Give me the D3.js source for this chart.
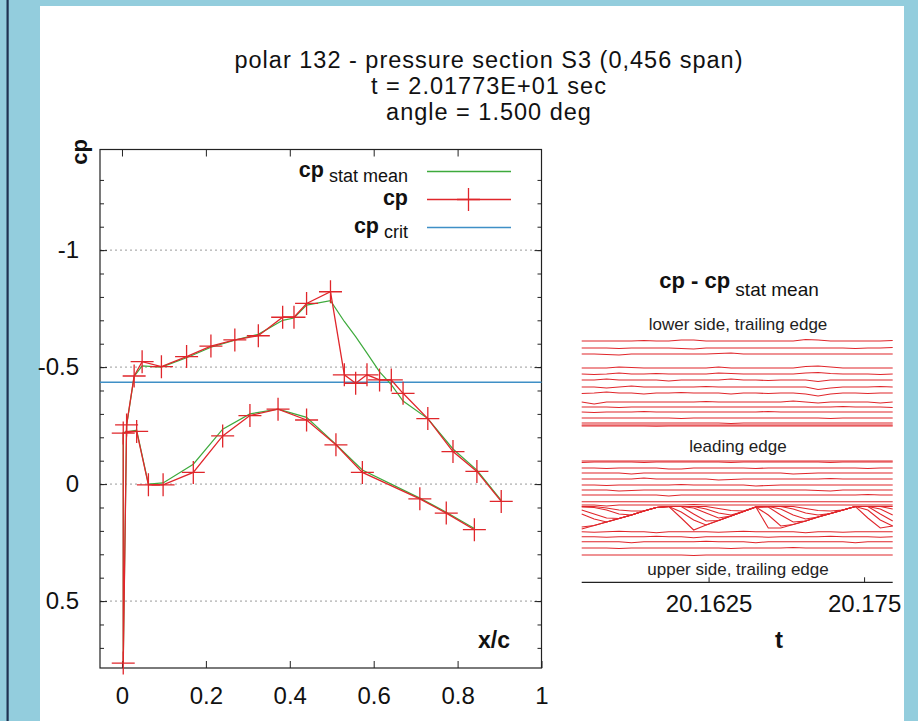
<!DOCTYPE html>
<html>
<head>
<meta charset="utf-8">
<script src="https://cdn.jsdelivr.net/npm/d3@7"></script>
<style>
  html, body { margin: 0; padding: 0; background: #93cddd; }
  svg { display: block; font-family: "Liberation Sans", Arial, sans-serif; }
</style>
</head>
<body>
<svg id="chart" width="918" height="721"></svg>
<script>
// ---------- pressure distribution (left panel) ----------
// taps in drawing order: upper side TE -> leading edge -> lower side TE
const tapX = [0.904, 0.846, 0.789, 0.729, 0.670, 0.642, 0.614, 0.584, 0.557, 0.530,
              0.497, 0.440, 0.410, 0.383, 0.325, 0.269, 0.212, 0.154, 0.094, 0.048,
              0.029, 0.011, 0.003, 0.003, 0.035, 0.063, 0.098, 0.170, 0.240, 0.305,
              0.372, 0.440, 0.510, 0.573, 0.710, 0.773, 0.840];
const cpNow = [0.074, -0.054, -0.139, -0.280, -0.388, -0.445, -0.445, -0.467, -0.431, -0.467,
               -0.822, -0.772, -0.713, -0.713, -0.634, -0.616, -0.590, -0.545, -0.502, -0.523,
               -0.462, -0.253, 0.765, -0.218, -0.225, 0.003, 0.003, -0.050, -0.206, -0.293,
               -0.320, -0.274, -0.168, -0.050, 0.063, 0.124, 0.195];
const cpStatMean = [0.070, -0.060, -0.150, -0.280, -0.355, -0.425, -0.480, -0.560, -0.630, -0.695,
                    -0.784, -0.765, -0.710, -0.700, -0.640, -0.615, -0.585, -0.540, -0.500, -0.505,
                    -0.460, -0.250, 0.765, -0.220, -0.230, 0.000, -0.005, -0.085, -0.235, -0.300,
                    -0.320, -0.285, -0.170, -0.060, 0.060, 0.120, 0.190];
const cpCrit = -0.435;
const cpMajorTicks = [-1, -0.5, 0, 0.5];
const cpTickLabels = ["-1", "-0.5", "0", "0.5"];
const xcTicks = [0, 0.2, 0.4, 0.6, 0.8, 1];
const xcTickLabels = ["0", "0.2", "0.4", "0.6", "0.8", "1"];

const titleLines = ["polar 132 - pressure section S3 (0,456 span)",
                    "t = 2.01773E+01 sec",
                    "angle = 1.500 deg"];

// ---------- cp - cp stat mean time histories (right panel) ----------
const tSample = [20.1523, 20.1533, 20.1543, 20.1553, 20.1563, 20.1573, 20.1583, 20.1593, 20.1603,
                 20.1613, 20.1623, 20.1633, 20.1643, 20.1653, 20.1663, 20.1673, 20.1683, 20.1693,
                 20.1703, 20.1713, 20.1723, 20.1733, 20.1743, 20.1753, 20.1763, 20.1773];
const tTicks = [20.1625, 20.175];
const tTickLabels = ["20.1625", "20.175"];

// stacking level of each tap trace (lower side, TE first)
const lowerSideLevel = [1, 8, 14, 28, 34, 40, 47, 53, 62, 67, 72, 78, 83, 85, 86];
const lowerSideDev = [
  [0,0,0,0,0,-0.5,0,0,-1,-1,0,0,0,0,0,0,0,0,-1.5,-1,0,0,0,0,0,-0.5],
  [0,0,0,0.5,0,0,0,0,0.5,1,0,0,0,0,0,0,0,0,0,0,0,0,0.5,0,0,-0.5],
  [0,0,0.5,1,0,0,0,0,0,0,0,-0.5,-1,0,0,0,0,0,0,0,0,0,0,0,0,0],
  [0,0,0,-1,-0.5,0,0,0,0,0,0,-1,0,0,0,0,0,0,-1.5,-2,-1,0,0,0,0,0],
  [0,0.5,0,-1,0,0,-0.5,0,0,0,0,-1,-0.5,0,0,0,0,0,-1,-1.5,-0.5,0,0,0,0.5,0],
  [0,0,-1,0,0,0,0,1,0,0,0,0,-1,0,0,0.5,0,0,0,1.5,0,0,0,0,0,0],
  [0,0,1,0,-1,0,0,0,0,0,-0.5,0,0,0,0,0,0,0,0,2.5,1,0,0,0,-0.5,0],
  [0.5,0,-1,0,0,1,0,0,-0.5,0,0,0,1,0,0,0.5,0,0,1,3,1,0,0,0.5,0,0],
  [0,2,0,0,0,0,0,0,0,0,-0.5,0,0,0,0,0,0,-1,0,1,0,0,0,0,1,0],
  [0,0,0,0.5,0,0,0,0,0,0,0,0,0,0,0,0,0,0,0,0,0,-0.5,0,0,0,0.5],
  [0,0.5,0,0,0,-0.5,0,0,0,0,0,0,0,0,0,-0.5,0,0,0,0,0,0,0,0,0,0],
  [0,0,0,0,0,0,0,0,0.5,0,0,0,0,0,0,0,0,0,0,0,0.5,0,0,0,0,0],
  [0,0,0,0,0,0,0,0,0,0,0,0,0.5,0,0,0,0,0,0,0,0,0,0,0,0,0],
  [0,0,0,0,0,0,0,0,0,0,0,0,0,0,0,0,0,0,0,0,0,0,0,0,0,0],
  [0,0,0,0,0,0,0.3,0,0,0,0,0,0,0,0,0,0,0,0,0,0,0,0,0,0,0]
];
const leadingLevel = [121, 122, 128, 133, 139, 145, 150, 155, 161.7, 165];
const leadingDev = [
  [0,0,0,0,0,0,0,0,0,0,0,0,0,0,0,0,0,0,0,0,0,0,0,0,0,0],
  [0.5,0,0,0,0,0.5,0,0,0,0,0,0,0.5,0,0,0,0,0,0,0,0.5,0,0,0,0,0],
  [0,0,0.5,0,0,0,0,1,1,0,0,0,0,0,0.5,0,0,0,0,0,0,0,0,0.5,0,0],
  [0,0,0,0,1,0,0,0,0,0,0,0,0,0,0,0,0,1,0.5,0,0,0,0,0,0,0],
  [0,0,0,0,0,-1,0,0,0,0,0,1,0.5,0,0,0,0,0,0,0,-0.5,0,0,0,0,0],
  [0,0,0.5,0,0,0,0,0,-0.5,0,0,0,0,0,1,0.5,0,0,0,0,0,0,0,0,0,0],
  [0,0,0,1,0.5,0,0,0,0,0,0,0,0,0,0,0,0,0,0,0.5,1,0,0,0,0,0],
  [0,0,0,0,0,0,0,1,0,0,0,0,0,0,0,0,0,0,0,0,0,0,0,-0.5,0,0],
  [0,0,0,0,0,0,0,0,0,0,0,0,0,0,0,0,0,0,0,0,0,0,0,0,0,0],
  [0,0,1,0,0,0,0,0,0,-0.5,0,0,0,0,0,0,0,0,0,0,0,0,0,0,0,0]
];
// taps swept by the oscillating shock on the upper side
const shockLevel = [190, 187, 183, 179, 175, 171];
const shockDev = [
  [-1,-4.5,-8,-11.5,-15,-19,-22.5,-23.5,-12,0,-5,-9.5,-14,-18.5,-23,-2,-2,-5.5,-9,-13,-16.5,-20,-23.5,-12,-2,-4],
  [0,-1.5,-5,-8.5,-12,-16,-19.5,-20.5,-15,-7,-2,-6.5,-11,-15.5,-20,-12,-1,-2.5,-6,-10,-13.5,-17,-20.5,-17,-7,-1],
  [-9,-4,-1,-4.5,-8,-12,-15.5,-16.5,-16.5,-9,-2,-2.5,-7,-11.5,-16,-16,-8,-1,-2,-6,-9.5,-13,-16.5,-16.5,-9,-2],
  [-9,-5,-1,-0.5,-4,-8,-11.5,-12.5,-12.5,-11,-6,-1,-3,-7.5,-12,-12.5,-10,-4,0,-2,-5.5,-9,-12.5,-12.5,-10,-4],
  [-8,-7.5,-5,-1,0,-4,-7.5,-8.5,-8.5,-8.5,-6,-2,0,-3.5,-8,-8.5,-8.5,-6,-2,0,-1.5,-5,-8.5,-8.5,-8.5,-6],
  [-4.5,-4.5,-3,-1,0,0,-3.5,-4.5,-4.5,-4.5,-4.5,-2.5,-0.5,0,-4,-4.5,-4.5,-4.5,-2.5,-0.5,0,-1,-4.5,-4.5,-4.5,-4.5]
];
const upperSideLevel = [191.7, 196.7, 201.7, 208, 215];
const upperSideDev = [
  [0,0.5,0,-0.5,0,0,1,0,0,0,0,0.5,0,-0.5,0,0,0,0,1,0,0,0.5,0,0,0,0],
  [0,0,0.5,0,0,0,-0.5,0,0,1,0,0,0,0,0,0.5,0,0,0,0,-0.5,0,0,0,0.5,0],
  [0,0,0,0,1,0,0,0,0,0,-0.5,0,0,0,1,0,0,0,0,0,0,0,1,0,0,0],
  [0,0,0,0.5,0,0,0,0,0,0,0,0,0.5,0,0,0,0,-0.5,0,0,0,0,0,0,0,0],
  [0,0,0,0,0,0,0,0,0,0.5,0,0,0,0,0,0,0,0,0,0,0,0,0,0,0,0]
];

// ---------- drawing ----------
const W = 918, H = 721;
const RED = "#e0262b", GREEN = "#3daa3c", BLUE = "#3f8fc6";
const svg = d3.select("#chart");

svg.append("rect").attr("width", W).attr("height", H).attr("fill", "#93cddd");
svg.append("rect").attr("x", 6.5).attr("y", 0).attr("width", 2.2).attr("height", H).attr("fill", "#1f3352");
svg.append("rect").attr("x", 40).attr("y", 6).attr("width", 864).attr("height", H - 6).attr("fill", "#ffffff");

// title
svg.append("g").selectAll("text").data(titleLines).join("text")
  .attr("x", 489).attr("y", (d, i) => 67.5 + i * 26.3)
  .attr("text-anchor", "middle").attr("font-size", 23.5).attr("letter-spacing", "1px").attr("fill", "#111")
  .text(d => d);

// ----- left panel -----
const L = { left: 100, right: 541.5, top: 149.5, bottom: 668 };
const xL = d3.scaleLinear().domain([-0.0524, 1]).range([L.left, L.right]);
const yL = d3.scaleLinear().domain([-1.43, 0.786]).range([L.top, L.bottom]);
const left = svg.append("g");

// dotted grid
left.append("g").selectAll("line").data(cpMajorTicks).join("line")
  .attr("x1", L.left).attr("x2", L.right)
  .attr("y1", d => yL(d)).attr("y2", d => yL(d))
  .attr("stroke", "#9a9a9a").attr("stroke-width", 1).attr("stroke-dasharray", "2,3");

function styleAxis(g) {
  g.select(".domain").remove();
  g.selectAll(".tick line").attr("stroke", "#222");
  g.selectAll("text").attr("fill", "#111").attr("font-size", 24).attr("font-family", "Liberation Sans, Arial, sans-serif");
}
const cpMinor = d3.range(-13, 8).map(i => i / 10);
left.append("g").attr("transform", `translate(${L.left},0)`)
  .call(d3.axisLeft(yL).tickValues(cpMinor).tickSizeInner(-4).tickSizeOuter(0).tickFormat(""))
  .call(styleAxis);
left.append("g").attr("transform", `translate(${L.right},0)`)
  .call(d3.axisRight(yL).tickValues(cpMinor).tickSizeInner(-4).tickSizeOuter(0).tickFormat(""))
  .call(styleAxis);
left.append("g").attr("transform", `translate(${L.left},0)`)
  .call(d3.axisLeft(yL).tickValues(cpMajorTicks).tickSizeInner(-7).tickSizeOuter(0).tickPadding(21)
        .tickFormat((d, i) => cpTickLabels[i]))
  .call(styleAxis);
left.append("g").attr("transform", `translate(${L.right},0)`)
  .call(d3.axisRight(yL).tickValues(cpMajorTicks).tickSizeInner(-7).tickSizeOuter(0).tickFormat(""))
  .call(styleAxis);
left.append("g").attr("transform", `translate(0,${L.bottom})`)
  .call(d3.axisBottom(xL).tickValues(xcTicks).tickSizeInner(-7).tickSizeOuter(0).tickPadding(19)
        .tickFormat((d, i) => xcTickLabels[i]))
  .call(styleAxis);
left.append("g").attr("transform", `translate(0,${L.top})`)
  .call(d3.axisTop(xL).tickValues(xcTicks.slice(0, 5)).tickSizeInner(-7).tickSizeOuter(0).tickFormat(""))
  .call(styleAxis);

left.append("rect").attr("x", L.left).attr("y", L.top)
  .attr("width", L.right - L.left).attr("height", L.bottom - L.top)
  .attr("fill", "none").attr("stroke", "#222").attr("stroke-width", 1.2);

// critical cp
left.append("line").attr("x1", L.left).attr("x2", L.right)
  .attr("y1", yL(cpCrit)).attr("y2", yL(cpCrit))
  .attr("stroke", BLUE).attr("stroke-width", 1.4);

const lineL = d3.line().x(d => xL(d[0])).y(d => yL(d[1]));
left.append("path").datum(tapX.map((x, i) => [x, cpStatMean[i]]))
  .attr("d", lineL).attr("fill", "none").attr("stroke", GREEN).attr("stroke-width", 1.2);
left.append("path").datum(tapX.map((x, i) => [x, cpNow[i]]))
  .attr("d", lineL).attr("fill", "none").attr("stroke", RED).attr("stroke-width", 1.3);

const crossPath = s => `M${-s},0H${s}M0,${-s}V${s}`;
left.append("g").selectAll("path").data(tapX.map((x, i) => [x, cpNow[i]])).join("path")
  .attr("transform", d => `translate(${xL(d[0])},${yL(d[1])})`)
  .attr("d", crossPath(11.5)).attr("stroke", RED).attr("stroke-width", 1.3).attr("fill", "none");

// axis titles
svg.append("text").attr("transform", `translate(86.5,152) rotate(-90)`)
  .attr("text-anchor", "middle").attr("font-size", 22).attr("font-weight", "bold").attr("fill", "#111").text("cp");
svg.append("text").attr("x", 510).attr("y", 648).attr("text-anchor", "end")
  .attr("font-size", 23).attr("font-weight", "bold").attr("fill", "#111").text("x/c");

// legend
const legend = svg.append("g");
const legendItems = [
  { main: "cp", sub: "stat mean", y: 177, color: GREEN, marker: false },
  { main: "cp", sub: "", y: 205, color: RED, marker: true },
  { main: "cp", sub: "crit", y: 233, color: BLUE, marker: false }
];
legendItems.forEach(item => {
  const t = legend.append("text").attr("x", 408).attr("y", item.y).attr("text-anchor", "end").attr("fill", "#111");
  t.append("tspan").attr("font-size", 21.5).attr("font-weight", "bold").text(item.main);
  if (item.sub) t.append("tspan").attr("font-size", 18).attr("dy", 5).text("\u00a0" + item.sub);
  const ly = item.y - 5.5;
  legend.append("line").attr("x1", 427).attr("x2", 511).attr("y1", ly).attr("y2", ly)
    .attr("stroke", item.color).attr("stroke-width", item.color === RED ? 1.3 : 1.4);
  if (item.marker) legend.append("path").attr("transform", `translate(468.5,${ly})`)
    .attr("d", crossPath(11.5)).attr("stroke", RED).attr("stroke-width", 1.3);
});

// ----- right panel -----
const xR = d3.scaleLinear().domain([20.1523, 20.1773]).range([581.7, 892.7]);
const yR = d3.scaleLinear().domain([0, 216]).range([340, 556]);
const right = svg.append("g");
const lineR = d3.line().x((d, k) => xR(tSample[k])).y(d => yR(d));

function drawGroup(levels, devs) {
  right.append("g").selectAll("path").data(levels.map((lv, i) => devs[i].map(v => lv + v))).join("path")
    .attr("d", lineR).attr("fill", "none").attr("stroke", RED).attr("stroke-width", 1.1);
}
drawGroup(lowerSideLevel, lowerSideDev);
drawGroup(leadingLevel, leadingDev);
drawGroup(shockLevel, shockDev);
drawGroup(upperSideLevel, upperSideDev);

right.append("g").attr("transform", `translate(0,582.3)`)
  .call(d3.axisBottom(xR).tickValues(tTicks).tickSizeInner(-5).tickSizeOuter(0).tickPadding(12.5)
        .tickFormat((d, i) => tTickLabels[i]))
  .call(g => {
    g.select(".domain").remove();
    g.selectAll(".tick line").attr("stroke", "#222");
    g.selectAll("text").attr("fill", "#111").attr("font-size", 24).attr("font-family", "Liberation Sans, Arial, sans-serif");
  });
right.append("line").attr("x1", xR.range()[0]).attr("x2", xR.range()[1])
  .attr("y1", 582.3).attr("y2", 582.3).attr("stroke", "#222").attr("stroke-width", 1.2);

const rTitle = right.append("text").attr("x", 739).attr("y", 288).attr("text-anchor", "middle").attr("fill", "#111");
rTitle.append("tspan").attr("font-size", 22).attr("font-weight", "bold").text("cp - cp");
rTitle.append("tspan").attr("font-size", 19).attr("dy", 8).text("\u00a0stat mean");

const sideLabels = [
  { text: "lower side, trailing edge", y: 330 },
  { text: "leading edge", y: 451.7 },
  { text: "upper side, trailing edge", y: 575 }
];
right.append("g").selectAll("text").data(sideLabels).join("text")
  .attr("x", 738).attr("y", d => d.y).attr("text-anchor", "middle")
  .attr("font-size", 17).attr("fill", "#222").text(d => d.text);

svg.append("text").attr("x", 779).attr("y", 648).attr("text-anchor", "middle")
  .attr("font-size", 24).attr("font-weight", "bold").attr("fill", "#111").text("t");
</script>
</body>
</html>
